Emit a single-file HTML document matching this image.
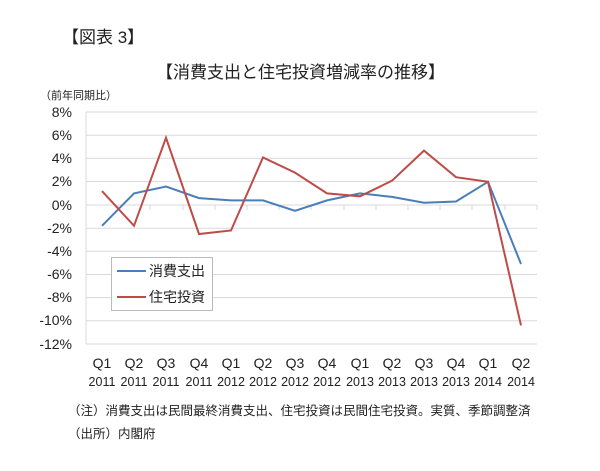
<!DOCTYPE html>
<html><head><meta charset="utf-8"><style>
body{margin:0;background:#fff;width:600px;height:466px;overflow:hidden}
text{font-family:"Liberation Sans","Noto Sans CJK JP",sans-serif;fill:#222}
</style></head><body>
<svg width="600" height="466" xmlns="http://www.w3.org/2000/svg">
<text x="62" y="43" font-size="17">【図表 3】</text>
<text x="156" y="78" font-size="17">【消費支出と住宅投資増減率の推移】</text>
<text x="40" y="99" font-size="11">（前年同期比）</text>
<g stroke="#d9d9d9" stroke-width="1">
<line x1="86" x2="537" y1="112" y2="112"/><line x1="86" x2="537" y1="135.2" y2="135.2"/>
<line x1="86" x2="537" y1="158.3" y2="158.3"/><line x1="86" x2="537" y1="181.5" y2="181.5"/>
<line x1="86" x2="537" y1="228.2" y2="228.2"/><line x1="86" x2="537" y1="251.3" y2="251.3"/>
<line x1="86" x2="537" y1="274.5" y2="274.5"/><line x1="86" x2="537" y1="297.6" y2="297.6"/>
<line x1="86" x2="537" y1="320.8" y2="320.8"/><line x1="86" x2="537" y1="344" y2="344"/>
<line x1="86" x2="86" y1="112" y2="344"/>
<line x1="86" x2="537" y1="205" y2="205"/>
</g>
<g stroke="#d9d9d9"><path d="M118 205v5M150 205v5M183 205v5M215 205v5M247 205v5M279 205v5M311 205v5M344 205v5M376 205v5M408 205v5M440 205v5M472 205v5M505 205v5M537 205v5"/></g>
<g font-size="14" text-anchor="end">
<text x="72" y="117">8%</text><text x="72" y="140">6%</text><text x="72" y="163">4%</text>
<text x="72" y="186">2%</text><text x="72" y="210">0%</text><text x="72" y="233">-2%</text>
<text x="72" y="256">-4%</text><text x="72" y="279">-6%</text><text x="72" y="302">-8%</text>
<text x="72" y="325">-10%</text><text x="72" y="349">-12%</text>
</g>
<polyline fill="none" stroke="#4a7ebb" stroke-width="2" points="102,225.8 134,193.4 166,186.5 199,198.1 231,200.4 263,200.4 295,210.8 327,200.4 360,193.4 392,196.9 424,202.7 456,201.5 488,181.8 521,264"/>
<polyline fill="none" stroke="#be4b48" stroke-width="2" points="102,191.1 134,225.8 166,137.8 199,234 231,230.5 263,157.5 295,172.6 327,193.4 360,196.3 392,180.7 424,150.6 456,177.2 488,181.8 521,325.4"/>
<g font-size="14" text-anchor="middle">
<text x="102" y="368">Q1</text><text x="134" y="368">Q2</text><text x="166" y="368">Q3</text><text x="199" y="368">Q4</text>
<text x="231" y="368">Q1</text><text x="263" y="368">Q2</text><text x="295" y="368">Q3</text><text x="327" y="368">Q4</text>
<text x="360" y="368">Q1</text><text x="392" y="368">Q2</text><text x="424" y="368">Q3</text><text x="456" y="368">Q4</text>
<text x="488" y="368">Q1</text><text x="521" y="368">Q2</text>
</g>
<g font-size="12.5" text-anchor="middle">
<text x="102" y="386">2011</text><text x="134" y="386">2011</text><text x="166" y="386">2011</text><text x="199" y="386">2011</text>
<text x="231" y="386">2012</text><text x="263" y="386">2012</text><text x="295" y="386">2012</text><text x="327" y="386">2012</text>
<text x="360" y="386">2013</text><text x="392" y="386">2013</text><text x="424" y="386">2013</text><text x="456" y="386">2013</text>
<text x="488" y="386">2014</text><text x="521" y="386">2014</text>
</g>
<rect x="111.5" y="257.5" width="101" height="53" fill="#fff" stroke="#bbb"/>
<line x1="117" x2="146" y1="271" y2="271" stroke="#4a7ebb" stroke-width="2"/>
<line x1="117" x2="146" y1="297" y2="297" stroke="#be4b48" stroke-width="2"/>
<text x="149" y="276" font-size="14">消費支出</text>
<text x="149" y="302" font-size="14">住宅投資</text>
<text x="68" y="415" font-size="12.5">（注）消費支出は民間最終消費支出、住宅投資は民間住宅投資。実質、季節調整済</text>
<text x="68" y="438" font-size="12.5">（出所）内閣府</text>
</svg>
</body></html>
